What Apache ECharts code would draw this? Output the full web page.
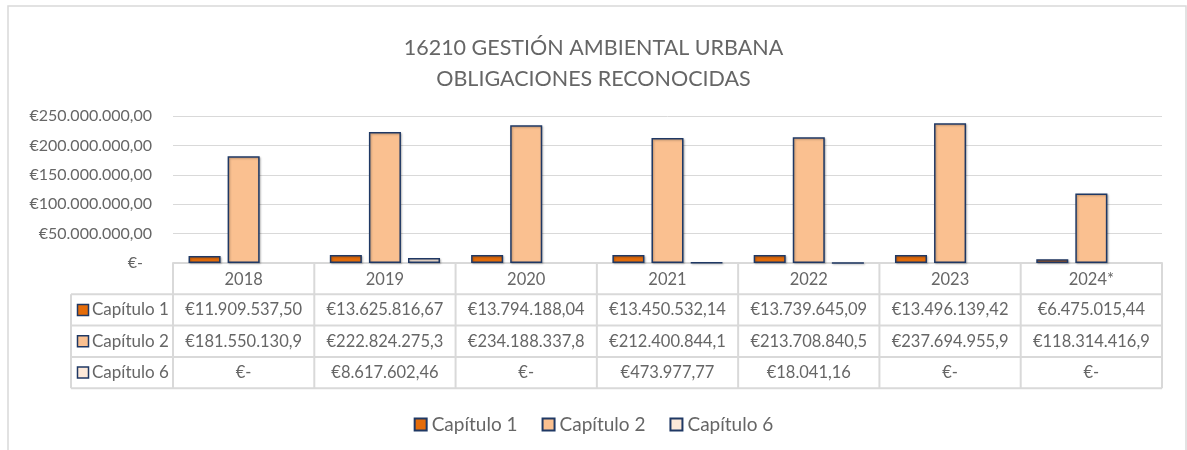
<!DOCTYPE html>
<html><head><meta charset="utf-8">
<script src="https://cdn.jsdelivr.net/npm/echarts@6/dist/echarts.min.js"></script>
<style>html,body{margin:0;padding:0;background:#fff}#c{width:1187px;height:450px}</style>
</head><body><div id="c"></div>
<script>
const titleLines = ['16210 GESTIÓN AMBIENTAL URBANA', 'OBLIGACIONES RECONOCIDAS'];
const categories = ['2018', '2019', '2020', '2021', '2022', '2023', '2024*'];
const seriesNames = ['Capítulo 1', 'Capítulo 2', 'Capítulo 6'];
const capitulo1 = [11909537.50, 13625816.67, 13794188.04, 13450532.14, 13739645.09, 13496139.42, 6475015.44];
const capitulo2 = [181550130.9, 222824275.3, 234188337.8, 212400844.1, 213708840.5, 237694955.9, 118314416.9];
const capitulo6 = [0, 8617602.46, 0, 473977.77, 18041.16, 0, 0];
const yTicks = [0, 50000000, 100000000, 150000000, 200000000, 250000000];
const seriesColors = ['#E46C0A', '#FAC090', '#FDE9D9'];

const FONT = 'Lato, "Open Sans", sans-serif';
const TXT = '#666666';
const LINE = '#D9D9D9';
const NAVY = '#1F3864';

function eur(v) {
  if (!v) return '€-';
  const parts = v.toFixed(2).split('.');
  const ip = parts[0].replace(/\B(?=(\d{3})+(?!\d))/g, '.');
  return '€' + ip + ',' + parts[1];
}
function cellText(v) { return eur(v).slice(0, 14); }

const allSeries = [capitulo1, capitulo2, capitulo6];
const chart = echarts.init(document.getElementById('c'), null, {renderer: 'canvas'});
chart.setOption({
  animation: false,
  textStyle: {fontFamily: FONT},
  title: {
    text: titleLines.join('\n'), left: 'center', top: 28,
    textStyle: {fontFamily: FONT, fontSize: 21.5, fontWeight: 'normal', color: TXT, lineHeight: 31}
  },
  legend: {
    top: 410, left: 'center', icon: 'rect', itemWidth: 12, itemHeight: 12, itemGap: 24,
    textStyle: {fontFamily: FONT, fontSize: 19, color: TXT},
    data: seriesNames
  },
  grid: {left: 173, right: 25, top: 116, bottom: 187, containLabel: false},
  xAxis: {
    type: 'category', data: categories,
    axisLine: {show: true, lineStyle: {color: LINE, width: 2}},
    axisTick: {show: false},
    axisLabel: {color: TXT, fontSize: 16.5, fontFamily: FONT, margin: 8}
  },
  yAxis: {
    type: 'value', min: yTicks[0], max: yTicks[yTicks.length - 1], interval: yTicks[1] - yTicks[0],
    axisLine: {show: false}, axisTick: {show: false},
    splitLine: {lineStyle: {color: LINE, width: 1}},
    axisLabel: {
      color: TXT, fontSize: 16, fontFamily: FONT, margin: 21,
      formatter: v => v === 0 ? '{z|€-}' : eur(v),
      rich: {z: {color: TXT, fontSize: 16, fontFamily: FONT, padding: [0, 9, 0, 0]}}
    }
  },
  series: seriesNames.map((n, k) => ({
    name: n, type: 'bar', data: allSeries[k].map(v => v === 0 ? null : v),
    barGap: '22%', barCategoryGap: '22%',
    itemStyle: {color: seriesColors[k], borderColor: NAVY, borderWidth: 1.5,
      shadowColor: 'rgba(0,0,0,0.25)', shadowBlur: 2, shadowOffsetX: 1, shadowOffsetY: 1}
  }))
});

const c0 = chart.convertToPixel({xAxisIndex: 0}, 0);
const c1 = chart.convertToPixel({xAxisIndex: 0}, 1);
const bw = c1 - c0;
const gLeft = c0 - bw / 2;
const yBase = chart.convertToPixel({yAxisIndex: 0}, 0);
const rowH = 31.3;
const keyLeft = gLeft - 102;
const tableBottom = yBase + rowH * 4;
const gRight = gLeft + bw * categories.length;
const g = [];
g.push({type: 'rect', shape: {x: 8, y: 6, width: 1178, height: 520}, style: {fill: 'none', stroke: LINE, lineWidth: 1.5}, z: 0});
for (let k = 1; k <= 4; k++) {
  const y = yBase + rowH * k;
  g.push({type: 'line', shape: {x1: keyLeft, y1: y, x2: gRight, y2: y}, style: {stroke: LINE, lineWidth: 2}});
}
for (let i = 0; i <= categories.length; i++) {
  const x = gLeft + bw * i;
  g.push({type: 'line', shape: {x1: x, y1: yBase, x2: x, y2: tableBottom}, style: {stroke: LINE, lineWidth: 2}});
}
g.push({type: 'line', shape: {x1: keyLeft, y1: yBase + rowH, x2: keyLeft, y2: tableBottom}, style: {stroke: LINE, lineWidth: 2}});
for (let r = 0; r < seriesNames.length; r++) {
  const yc = yBase + rowH * (r + 1) + rowH / 2;
  g.push({type: 'rect', shape: {x: keyLeft + 6.5, y: yc - 5.5, width: 11, height: 11},
    style: {fill: seriesColors[r], stroke: NAVY, lineWidth: 1.5}});
  g.push({type: 'text', x: keyLeft + 21, y: yc,
    style: {text: seriesNames[r], fill: TXT, font: '17px ' + FONT, textAlign: 'left', textVerticalAlign: 'middle'}});
  for (let i = 0; i < categories.length; i++) {
    const xc = chart.convertToPixel({xAxisIndex: 0}, i);
    g.push({type: 'text', x: xc, y: yc,
      style: {text: cellText(allSeries[r][i]), fill: TXT, font: '16.5px ' + FONT, textAlign: 'center', textVerticalAlign: 'middle'}});
  }
}
chart.setOption({graphic: {elements: g}});
</script>
</body></html>
